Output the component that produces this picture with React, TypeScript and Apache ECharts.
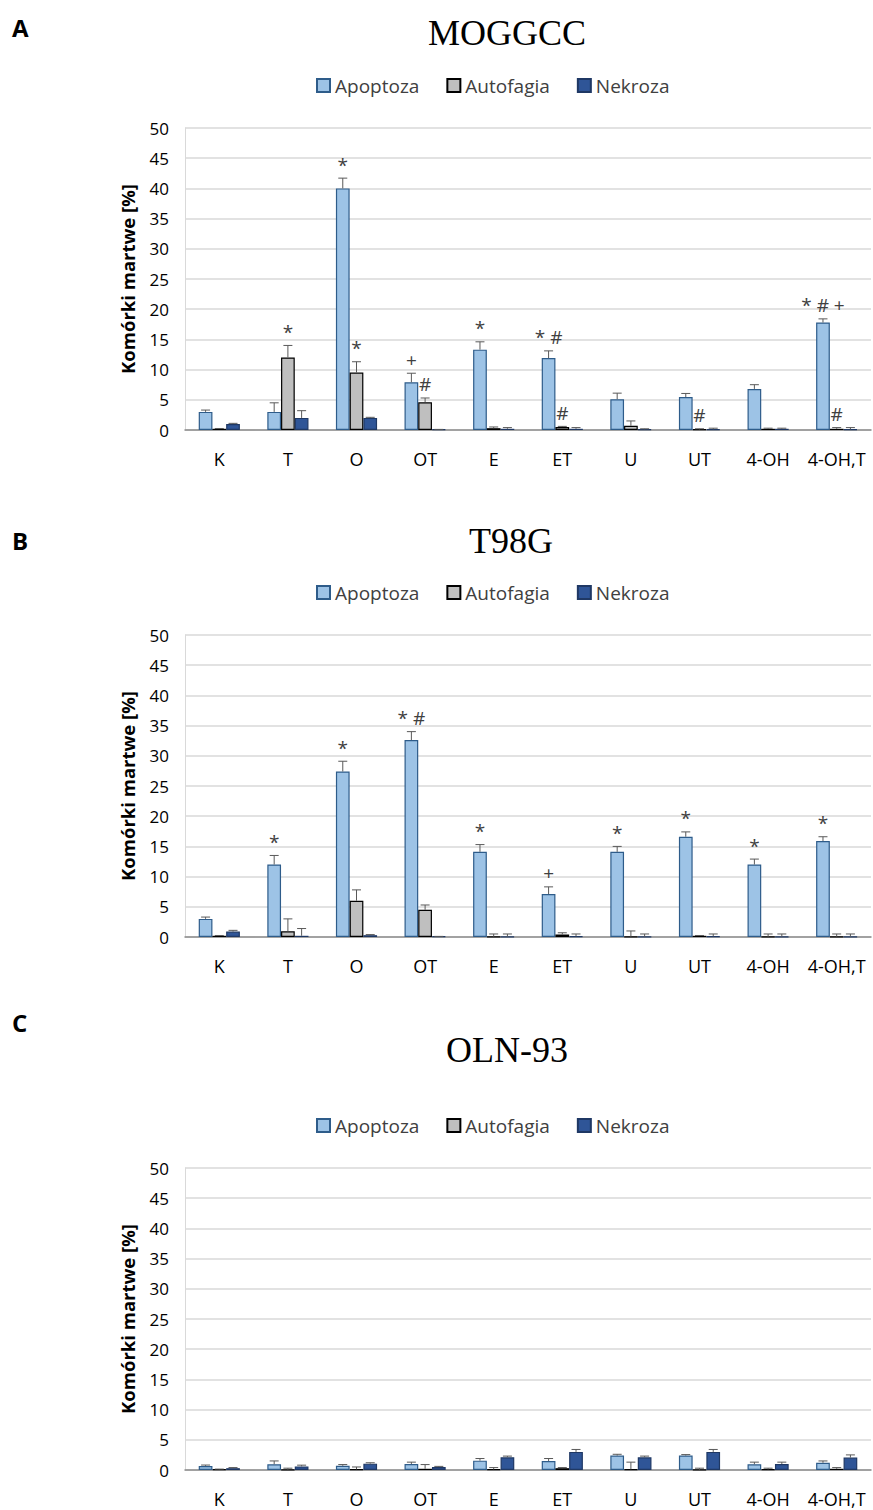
import React, { useEffect, useRef } from "react";
import * as echarts from "echarts";

const categories = ["K", "T", "O", "OT", "E", "ET", "U", "UT", "4-OH", "4-OH,T"];
const seriesNames = ["Apoptoza", "Autofagia", "Nekroza"];
const panelTitles = ["MOGGCC", "T98G", "OLN-93"];
const panelLetters = ["A", "B", "C"];
const yTicks = { min: 0, max: 50, interval: 5 };

// Panel A – MOGGCC
const apopA = [3.0, 3.0, 40.0, 7.9, 13.3, 11.9, 5.1, 5.45, 6.8, 17.8];
const apopErrA = [0.3, 1.5, 1.7, 1.5, 1.3, 1.2, 1.0, 0.6, 0.7, 0.6];
const autoA = [0.2, 12.0, 9.5, 4.6, 0.3, 0.5, 0.7, 0.1, 0.2, 0.2];
const autoErrA = [0.05, 2.0, 1.8, 0.7, 0.2, 0.1, 0.8, 0.1, 0.1, 0.2];
const nekA = [1.0, 2.0, 2.0, 0.1, 0.2, 0.2, 0.1, 0.1, 0.2, 0.1];
const nekErrA = [0.1, 1.2, 0.1, 0.0, 0.2, 0.2, 0.1, 0.2, 0.1, 0.3];
const apopLblA = ["", "", "*", "+", "*", "* #", "", "", "", "* # +"];
const autoLblA = ["", "*", "*", "#", "", "#", "", "#", "", "#"];
const nekLblA = ["", "", "", "", "", "", "", "", "", ""];

// Panel B – T98G
const apopB = [3.0, 12.0, 27.4, 32.6, 14.1, 7.1, 14.1, 16.6, 12.0, 15.9];
const apopErrB = [0.3, 1.5, 1.7, 1.4, 1.2, 1.2, 0.9, 0.8, 0.9, 0.7];
const autoB = [0.2, 0.95, 6.0, 4.5, 0.05, 0.4, 0.05, 0.2, 0.05, 0.05];
const autoErrB = [0.05, 2.05, 1.8, 0.8, 0.45, 0.3, 0.95, 0.05, 0.45, 0.45];
const nekB = [0.9, 0.2, 0.3, 0.1, 0.05, 0.1, 0.05, 0.1, 0.05, 0.05];
const nekErrB = [0.2, 1.2, 0.1, 0.0, 0.45, 0.4, 0.45, 0.4, 0.45, 0.45];
const apopLblB = ["", "*", "*", "* #", "*", "+", "*", "*", "*", "*"];
const autoLblB = ["", "", "", "", "", "", "", "", "", ""];
const nekLblB = ["", "", "", "", "", "", "", "", "", ""];

// Panel C – OLN-93
const apopC = [0.67, 0.95, 0.7, 1.0, 1.55, 1.5, 2.4, 2.4, 0.95, 1.2];
const apopErrC = [0.15, 0.55, 0.2, 0.3, 0.35, 0.4, 0.2, 0.15, 0.35, 0.3];
const autoC = [0.1, 0.05, 0.1, 0.2, 0.1, 0.3, 0.1, 0.05, 0.1, 0.2];
const autoErrC = [0.05, 0.25, 0.4, 0.7, 0.3, 0.1, 1.2, 0.25, 0.2, 0.2];
const nekC = [0.3, 0.6, 1.05, 0.5, 2.1, 3.0, 2.1, 3.0, 1.0, 2.05];
const nekErrC = [0.1, 0.2, 0.15, 0.1, 0.2, 0.4, 0.2, 0.4, 0.3, 0.45];
const emptyLbl = ["", "", "", "", "", "", "", "", "", ""];

const panels = [
  { vals: [apopA, autoA, nekA], errs: [apopErrA, autoErrA, nekErrA], lbls: [apopLblA, autoLblA, nekLblA] },
  { vals: [apopB, autoB, nekB], errs: [apopErrB, autoErrB, nekErrB], lbls: [apopLblB, autoLblB, nekLblB] },
  { vals: [apopC, autoC, nekC], errs: [apopErrC, autoErrC, nekErrC], lbls: [emptyLbl, emptyLbl, emptyLbl] },
];

const fills = ["#9DC3E6", "#BFBFBF", "#2F5597"];
const borders = ["#2E5C8A", "#000000", "#1F3864"];
const SANS = "'Open Sans', 'Noto Sans', sans-serif";
const gridTops = [128, 635, 1168];
const titleYs = [33, 541, 1050];
const titleXs = [507, 511, 507];
const letterYs = [27, 540, 1022];
const legendYs = [86, 593, 1126];
const BAR_FRAC = 0.2;

export default function App() {
  const ref = useRef<HTMLDivElement>(null);
  useEffect(() => {
    if (!ref.current) return;
    const chart = echarts.init(ref.current, null, { renderer: "svg" });
    const grid: any[] = [];
    const xAxis: any[] = [];
    const yAxis: any[] = [];
    const series: any[] = [];
    const legend: any[] = [];
    const graphic: any[] = [];

    panels.forEach((p, pi) => {
      grid.push({ left: 185, right: 2, top: gridTops[pi], height: 302 });
      xAxis.push({
        type: "category",
        gridIndex: pi,
        data: categories,
        axisTick: { show: false },
        axisLine: { lineStyle: { color: "#8C8C8C", width: 1.5 } },
        axisLabel: { color: "#000", fontSize: 18, fontFamily: SANS, margin: 20, interval: 0 },
      });
      yAxis.push({
        type: "value",
        gridIndex: pi,
        min: yTicks.min,
        max: yTicks.max,
        interval: yTicks.interval,
        name: "Komórki martwe [%]",
        nameLocation: "middle",
        nameGap: 48,
        nameTextStyle: { fontSize: 18.5, fontWeight: "bold", fontFamily: SANS, color: "#000" },
        axisLine: { show: true, lineStyle: { color: "#D9D9D9" } },
        axisTick: { show: false },
        axisLabel: { color: "#000", fontSize: 17, fontFamily: SANS, margin: 16 },
        splitLine: { lineStyle: { color: "#D9D9D9", width: 1.5 } },
      });
      legend.push({
        top: legendYs[pi] - 10,
        left: 316,
        padding: 0,
        data: seriesNames,
        icon: "rect",
        itemWidth: 13,
        itemHeight: 13,
        itemGap: 27,
        textStyle: { fontSize: 19, fontFamily: SANS, color: "#404040" },
        selectedMode: false,
      });
      seriesNames.forEach((name, k) => {
        series.push({
          type: "bar",
          name,
          xAxisIndex: pi,
          yAxisIndex: pi,
          data: p.vals[k],
          barWidth: BAR_FRAC * 100 + "%",
          barGap: "0%",
          itemStyle: { color: fills[k], borderColor: borders[k], borderWidth: 1.2 },
        });
      });
      seriesNames.forEach((name, k) => {
        const vals = p.vals[k];
        const errs = p.errs[k];
        const lbls = p.lbls[k];
        series.push({
          type: "custom",
          name: name + " err",
          xAxisIndex: pi,
          yAxisIndex: pi,
          z: 5,
          data: vals.map((v, i) => [i, v, errs[i]]),
          renderItem: (params: any, api: any) => {
            const idx = api.value(0);
            const v = api.value(1);
            const e = api.value(2);
            const bw = api.size([1, 0])[0];
            const off = (k - 1) * BAR_FRAC * bw;
            const base = api.coord([idx, v]);
            const top = api.coord([idx, v + e]);
            const x = base[0] + off;
            const cap = 4.5;
            const stroke = "#595959";
            const children: any[] = [
              { type: "line", shape: { x1: x, y1: base[1], x2: x, y2: top[1] }, style: { stroke, lineWidth: 1 } },
              { type: "line", shape: { x1: x - cap, y1: top[1], x2: x + cap, y2: top[1] }, style: { stroke, lineWidth: 1 } },
            ];
            const lbl = lbls[params.dataIndex];
            if (lbl) {
              children.push({
                type: "text",
                style: {
                  x,
                  y: top[1] - 4,
                  text: lbl,
                  fill: "#404040",
                  font: "19px " + SANS,
                  textAlign: "center",
                  textVerticalAlign: "bottom",
                },
              });
            }
            return { type: "group", children };
          },
        });
      });
      graphic.push({
        type: "text",
        x: titleXs[pi],
        y: titleYs[pi],
        style: {
          text: panelTitles[pi],
          fill: "#000",
          font: "36px 'Liberation Serif', serif",
          textAlign: "center",
          textVerticalAlign: "middle",
        },
      });
      graphic.push({
        type: "text",
        x: 12,
        y: letterYs[pi],
        style: {
          text: panelLetters[pi],
          fill: "#000",
          font: "bold 24px 'Open Sans', sans-serif",
          textVerticalAlign: "middle",
        },
      });
    });

    chart.setOption({
      animation: false,
      backgroundColor: "#fff",
      grid,
      xAxis,
      yAxis,
      legend,
      series,
      graphic,
    });
    return () => chart.dispose();
  }, []);
  return <div ref={ref} style={{ position: "absolute", left: 0, top: 0, width: 873, height: 1510 }} />;
}
